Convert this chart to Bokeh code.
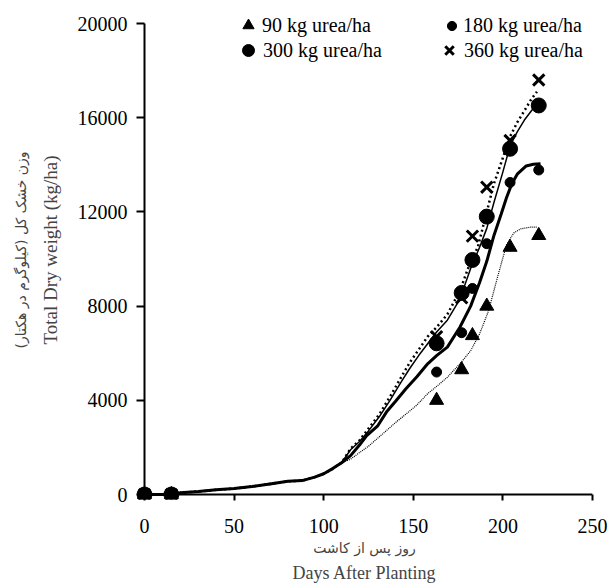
from bokeh.plotting import figure
from bokeh.models import Legend, LegendItem, Title, FixedTicker, Range1d
from bokeh.embed import file_html
from bokeh.resources import INLINE

# ---- data ----
obs_days = [0, 15, 163, 177, 183, 191, 204, 220]
obs_90 = [0, 0, 4000, 5300, 6750, 8000, 10500, 11000]
obs_180 = [0, 0, 5200, 6870, 8750, 10650, 13250, 13780]
obs_300 = [0, 0, 6420, 8560, 9960, 11800, 14680, 16520]
obs_360 = [0, 0, 6700, 8350, 10970, 13050, 15030, 17600]

common_days = [0, 15, 20, 30, 40, 50, 60, 70, 80, 88, 95, 100, 105, 110]
common_vals = [0, 0, 70, 130, 200, 250, 340, 450, 560, 590, 740, 880, 1100, 1350]

sim90_days = common_days + [115, 120, 125, 133, 140, 146, 152, 158, 164, 169, 176, 182, 187, 192, 197, 202, 206, 210, 215, 219]
sim90_vals = common_vals + [1500, 1780, 2050, 2580, 3050, 3420, 3800, 4280, 4650, 4980, 5550, 6100, 6820, 7800, 9230, 10600, 11100, 11280, 11350, 11350]

sim180_days = common_days + [115, 120, 124, 130, 135, 140, 146, 152, 158, 163, 169, 176, 182, 187, 191, 195, 199, 202, 205, 208, 213, 217, 221]
sim180_vals = common_vals + [1650, 2100, 2500, 2900, 3500, 3950, 4500, 5000, 5550, 5900, 6260, 7100, 8000, 9000, 9900, 11000, 11900, 12600, 13200, 13600, 13950, 14020, 14040]

sim300_days = common_days + [115, 120, 125, 131, 137, 143, 148, 153, 158, 163, 169, 176, 182, 187, 191, 195, 200, 204, 208, 212, 217, 220]
sim300_vals = common_vals + [1900, 2250, 2700, 3300, 4000, 4750, 5350, 5900, 6400, 6900, 7400, 8300, 9600, 10500, 11300, 12400, 13700, 14800, 15400, 15900, 16400, 16500]

sim360_days = common_days + [115, 120, 125, 131, 137, 143, 148, 153, 158, 163, 169, 176, 182, 186, 190, 195, 200, 204, 208, 212, 216, 219]
sim360_vals = common_vals + [1950, 2300, 2800, 3400, 4150, 4950, 5600, 6150, 6700, 7100, 7650, 8650, 9900, 10500, 11700, 13200, 14300, 15200, 15800, 16300, 16800, 17100]

x_ticks = [0, 50, 100, 150, 200, 250]
y_ticks = [0, 4000, 8000, 12000, 16000, 20000]

labels = ["90 kg urea/ha", "180 kg urea/ha", "300 kg urea/ha", "360 kg urea/ha"]
x_title_fa = "روز پس از کاشت"
x_title_en = "Days After Planting"
y_title_fa = "وزن خشک کل (کیلوگرم در هکتار)"
y_title_en = "Total Dry weight (kg/ha)"

SERIF = "Liberation Serif"
FA = "DejaVu Sans"

# the frame is a little larger than the axes so that markers at 0 are not cut
X_MAX, Y_MAX = x_ticks[-1], y_ticks[-1]
px_per_day = 448 / X_MAX
px_per_unit = 471 / Y_MAX
x_range = Range1d(-8 / px_per_day, X_MAX)
y_range = Range1d(-5 / px_per_unit, Y_MAX + 23 / px_per_unit)

p = figure(width=609, height=585, output_backend="svg", toolbar_location=None,
           x_range=x_range, y_range=y_range,
           min_border_left=136, min_border_right=17, min_border_top=0, min_border_bottom=86)
p.outline_line_color = None
p.xgrid.visible = False
p.ygrid.visible = False
p.background_fill_color = "white"
p.border_fill_color = "white"

for ax in (p.xaxis, p.yaxis):
    ax.axis_line_color = None
    ax.major_tick_line_width = 2
    ax.major_tick_line_color = "black"
    ax.minor_tick_line_color = None
    ax.major_label_text_font = SERIF
    ax.major_label_text_font_size = "20px"
    ax.major_label_text_color = "black"

p.yaxis.major_tick_in = 8
p.yaxis.major_tick_out = 0
p.xaxis.major_tick_in = 5
p.xaxis.major_tick_out = 1

p.xaxis.ticker = FixedTicker(ticks=x_ticks)
p.yaxis.ticker = FixedTicker(ticks=y_ticks)
p.xaxis.major_label_standoff = 18
p.yaxis.major_label_standoff = 9

p.yaxis.axis_label = y_title_en
p.yaxis.axis_label_text_font = SERIF
p.yaxis.axis_label_text_font_size = "19px"
p.yaxis.axis_label_text_font_style = "normal"
p.yaxis.axis_label_standoff = 14

p.xaxis.axis_label = x_title_fa
p.xaxis.axis_label_text_font = FA
p.xaxis.axis_label_text_font_size = "14px"
p.xaxis.axis_label_text_font_style = "normal"
p.xaxis.axis_label_standoff = 4

p.add_layout(Title(text=y_title_fa, align="center", text_font=FA, text_font_size="14px",
                   text_font_style="normal", standoff=15), "left")
p.add_layout(Title(text=x_title_en, align="center", text_font=SERIF, text_font_size="18px",
                   text_font_style="normal", standoff=5), "below")

# axis lines at x = 0 and y = 0
p.segment(x0=[x_ticks[0]], y0=[y_ticks[0]], x1=[x_ticks[0]], y1=[Y_MAX], line_color="black", line_width=2)
p.segment(x0=[x_ticks[0]], y0=[y_ticks[0]], x1=[X_MAX], y1=[y_ticks[0]], line_color="black", line_width=2)

# simulated lines
p.line(sim90_days, sim90_vals, line_color="black", line_width=1.2, line_dash="1 1")
p.line(sim180_days, sim180_vals, line_color="black", line_width=3)
p.line(sim300_days, sim300_vals, line_color="black", line_width=1.5)
p.line(sim360_days, sim360_vals, line_color="black", line_width=2.5, line_dash="2 3")

# observed points
r90 = p.scatter(obs_days, obs_90, marker="triangle", size=14, fill_color="black", line_color="black")
r180 = p.scatter(obs_days, obs_180, marker="circle", size=10, fill_color="black", line_color="black")
r300 = p.scatter(obs_days, obs_300, marker="circle", size=15, fill_color="black", line_color="black")
r360 = p.scatter(obs_days, obs_360, marker="x", size=16, line_color="black", line_width=3)

# legend: one small legend per entry, laid out as 2 x 2
entries = [
    (labels[0], r90, 28, (98, 460)),
    (labels[2], r300, 30, (97, 434)),
    (labels[1], r180, 23, (304, 462)),
    (labels[3], r360, 30, (298, 434)),
]
for lab, rend, g, loc in entries:
    lg = Legend(items=[LegendItem(label=lab, renderers=[rend])], location=loc,
                glyph_width=g, glyph_height=g, label_height=g, label_standoff=0,
                padding=0, margin=0, spacing=0,
                border_line_color=None, background_fill_alpha=0,
                label_text_font=SERIF, label_text_font_size="20px", label_text_color="black")
    p.add_layout(lg)

open("out.html", "w").write(file_html(p, INLINE))
